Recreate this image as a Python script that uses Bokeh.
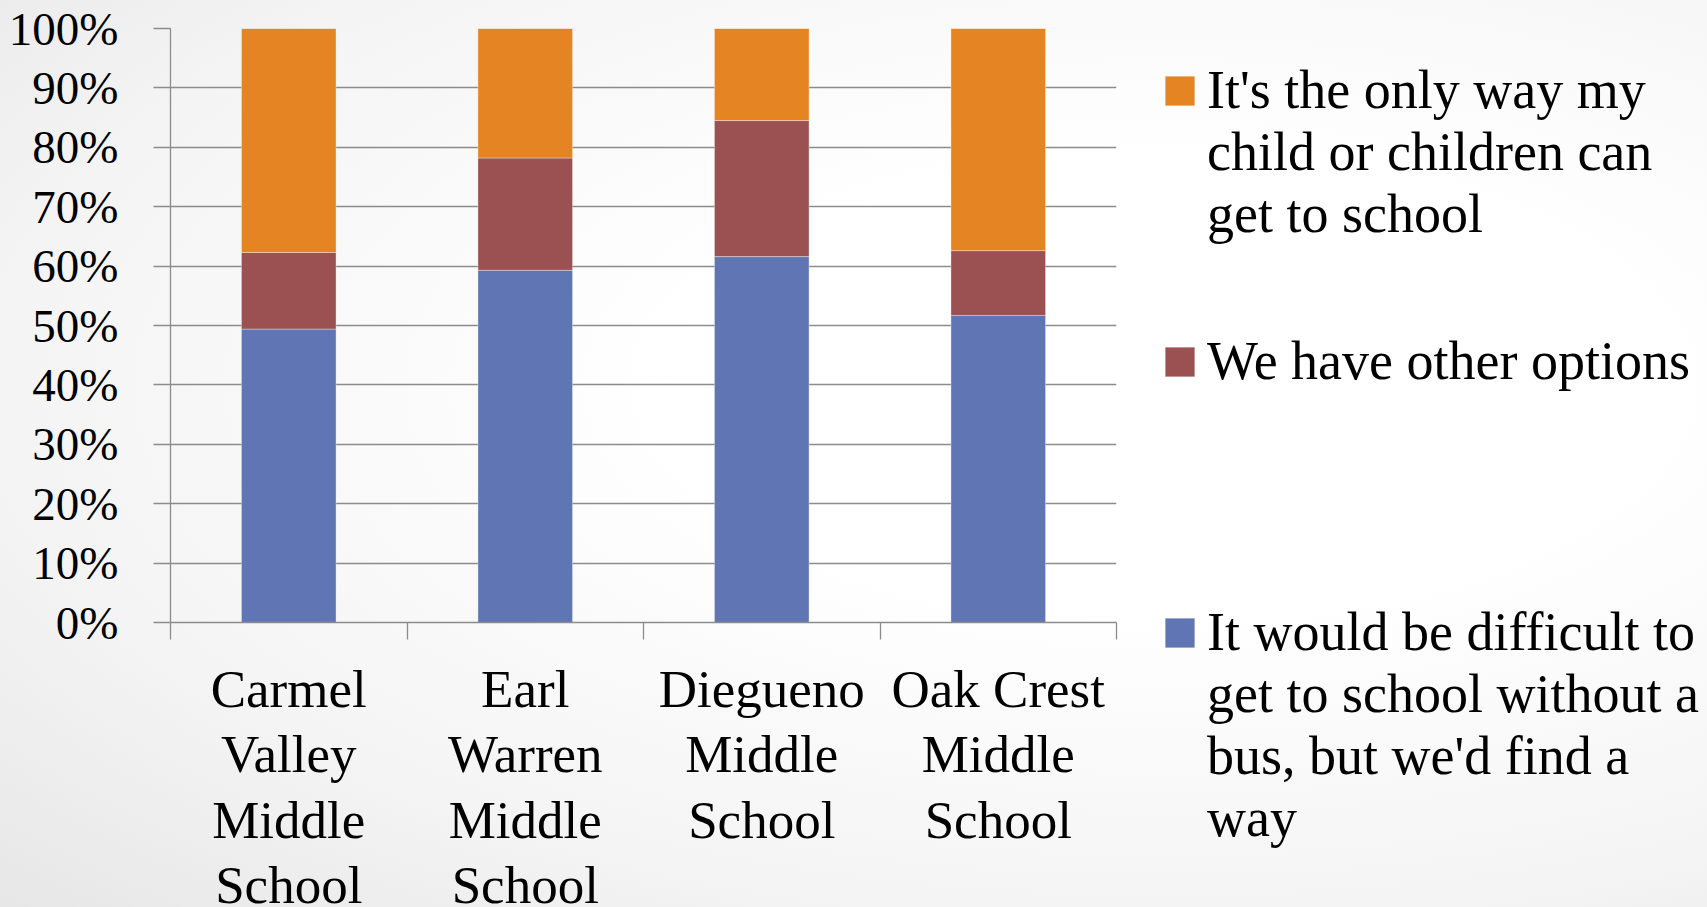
import numpy as np
from bokeh.plotting import figure
from bokeh.layouts import row
from bokeh.models import (Range1d, FixedTicker, NumeralTickFormatter, ColumnDataSource,
                          Legend, LegendItem)
from bokeh.embed import file_html
from bokeh.resources import INLINE

# ---- data ----
schools = ["Carmel Valley Middle School", "Earl Warren Middle School",
           "Diegueno Middle School", "Oak Crest Middle School"]
school_labels = ["Carmel\nValley\nMiddle\nSchool", "Earl\nWarren\nMiddle\nSchool",
                 "Diegueno\nMiddle\nSchool", "Oak Crest\nMiddle\nSchool"]
difficult = [0.494, 0.593, 0.616, 0.517]
other_options = [0.129, 0.189, 0.229, 0.109]
only_way = [0.377, 0.218, 0.155, 0.374]
series_names = ["It would be difficult to\nget to school without a\nbus, but we'd find a\nway",
                "We have other options",
                "It's the only way my\nchild or children can\nget to school"]
series_keys = ["difficult", "other", "only"]
colors = ["#6075B3", "#9B5152", "#E58422"]
y_ticks = [0.0, 0.1, 0.2, 0.3, 0.4, 0.5, 0.6, 0.7, 0.8, 0.9, 1.0]

FONT = "Liberation Serif"
GRID = "#8c8c8c"

# frame geometry (pixels)
FL, FT, FW, FH = 170, 28, 946, 594
W, H = 1707, 907

xpos = np.arange(len(schools)) + 0.5
src = ColumnDataSource(dict(x=xpos, difficult=difficult, other=other_options, only=only_way))

p = figure(frame_width=FW, frame_height=FH, x_range=Range1d(0, len(schools)), y_range=Range1d(0, 1),
           output_backend="svg", toolbar_location=None,
           min_border_left=FL, min_border_right=W - FL - FW, min_border_top=FT,
           min_border_bottom=H - FT - FH)
p.background_fill_color = None
p.border_fill_color = None
p.outline_line_color = None

renderers = p.vbar_stack(series_keys, x="x", width=0.4, source=src, color=colors,
                         line_color="white", line_alpha=0.35, line_width=1)

# y axis
p.yaxis.ticker = FixedTicker(ticks=y_ticks)
p.yaxis.formatter = NumeralTickFormatter(format="0%")
p.yaxis.major_label_text_font = FONT
p.yaxis.major_label_text_font_size = "47px"
p.yaxis.major_label_text_color = "black"
p.yaxis.major_label_standoff = 35
p.yaxis.major_tick_out = 17
p.yaxis.major_tick_in = 0
p.yaxis.minor_tick_out = 0
p.yaxis.minor_tick_in = 0
p.yaxis.axis_line_color = GRID
p.yaxis.major_tick_line_color = GRID
p.yaxis.axis_line_width = 1.3
p.yaxis.major_tick_line_width = 1.3

# x axis: labels at category centres, tick marks at category boundaries
boundaries = [float(b) for b in range(len(schools) + 1)]
p.xaxis.ticker = FixedTicker(ticks=list(xpos), minor_ticks=boundaries)
p.xaxis.major_label_overrides = {float(x): lab for x, lab in zip(xpos, school_labels)}
p.xaxis.major_label_text_font = FONT
p.xaxis.major_label_text_font_size = "53px"
p.xaxis.major_label_text_color = "black"
p.xaxis.major_label_text_line_height = 1.13
p.xaxis.major_label_standoff = 20
p.xaxis.major_tick_out = 17
p.xaxis.major_tick_in = 0
p.xaxis.major_tick_line_color = None
p.xaxis.minor_tick_out = 17
p.xaxis.minor_tick_in = 0
p.xaxis.minor_tick_line_color = GRID
p.xaxis.minor_tick_line_width = 1.3
p.xaxis.axis_line_color = GRID
p.xaxis.axis_line_width = 1.3

p.xgrid.grid_line_color = None
p.ygrid.ticker = FixedTicker(ticks=y_ticks)
p.ygrid.grid_line_color = GRID
p.ygrid.grid_line_width = 1.3

# ---- legend (right side panel), entries listed top to bottom ----
# Legend glyphs are centred on their entry; invisible padding lines keep each swatch
# beside the first line of its (multi-line) label, as in the original.
def pad_label(name, extra_after=0):
    n_before = name.count("\n") + extra_after
    return "\n" * n_before + name + "\n\u200b" * extra_after

padded = [pad_label(series_names[2], 1), pad_label(series_names[1]), pad_label(series_names[0])]
order = [2, 1, 0]
items = [LegendItem(label=lab, renderers=[renderers[i]]) for lab, i in zip(padded, order)]
legend = Legend(items=items, location=(45, -227), orientation="vertical",
                label_text_font=FONT, label_text_font_size="54px", label_text_color="black",
                label_text_line_height=1.245, label_standoff=9,
                glyph_width=37, glyph_height=37, spacing=23, padding=0, margin=0,
                border_line_color=None, background_fill_alpha=0.0)
p.add_layout(legend, "right")

layout = row(p, styles={
    "background": "radial-gradient(ellipse farthest-corner at 55% 42%, #ffffff 30%, #f4f4f4 70%, #e6e6e6 100%)"
})

open("out.html", "w").write(file_html(layout, INLINE))
